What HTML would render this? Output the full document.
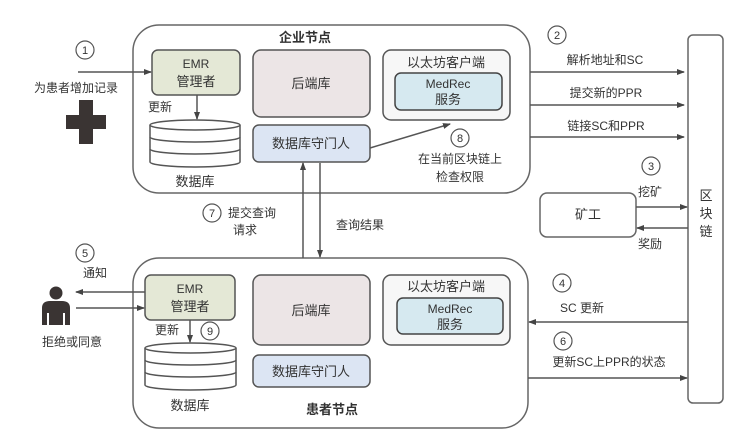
<!DOCTYPE html>
<html><head><meta charset="utf-8"><style>
html,body{margin:0;padding:0;background:#fff}
svg{display:block}
text{font-family:"Liberation Sans","Noto Sans CJK SC",sans-serif;fill:#333}
</style></head><body>
<svg width="739" height="448" viewBox="0 0 739 448" xmlns="http://www.w3.org/2000/svg">
<defs>
<marker id="a" markerWidth="8" markerHeight="8" refX="7" refY="4" orient="auto" markerUnits="userSpaceOnUse"><path d="M0,1 L8,4 L0,7z" fill="#444"/></marker>
</defs>
<g stroke="#666" stroke-width="1.5" fill="none">
<rect x="133" y="25" width="397" height="168" rx="26"/>
<rect x="133" y="258" width="395" height="170" rx="26"/>
<rect x="688" y="35" width="35" height="368" rx="5"/>
<rect x="540" y="193" width="96" height="44" rx="7"/>
</g>
<rect x="152" y="50" width="88" height="45" rx="6" fill="#e4e8d6" stroke="#555" stroke-width="1.5"/>
<rect x="253" y="50" width="117" height="67" rx="8" fill="#ece5e6" stroke="#555" stroke-width="1.5"/>
<rect x="253" y="125" width="117" height="37" rx="6" fill="#dce5f3" stroke="#555" stroke-width="1.5"/>
<rect x="383" y="50" width="127" height="70" rx="8" fill="#f7f7f7" stroke="#555" stroke-width="1.5"/>
<rect x="395" y="73" width="107" height="37" rx="6" fill="#d6e9f0" stroke="#444" stroke-width="1.5"/>
<rect x="145" y="275" width="90" height="45" rx="6" fill="#e4e8d6" stroke="#555" stroke-width="1.5"/>
<rect x="253" y="275" width="117" height="70" rx="8" fill="#ece5e6" stroke="#555" stroke-width="1.5"/>
<rect x="253" y="355" width="117" height="32" rx="6" fill="#dce5f3" stroke="#555" stroke-width="1.5"/>
<rect x="383" y="275" width="127" height="70" rx="8" fill="#f7f7f7" stroke="#555" stroke-width="1.5"/>
<rect x="397" y="298" width="106" height="36" rx="6" fill="#d6e9f0" stroke="#444" stroke-width="1.5"/>
<g stroke="#555" stroke-width="1.5" fill="#fff">
<path d="M150,125 v37 a45,5 0 0 0 90,0 v-37"/>
<ellipse cx="195" cy="125" rx="45" ry="5"/>
<path d="M150,137 a45,5 0 0 0 90,0 M150,149 a45,5 0 0 0 90,0" fill="none"/>
<path d="M145,348 v37 a45.5,5 0 0 0 91,0 v-37"/>
<ellipse cx="190.5" cy="348" rx="45.5" ry="5"/>
<path d="M145,360 a45.5,5 0 0 0 91,0 M145,372 a45.5,5 0 0 0 91,0" fill="none"/>
</g>
<g stroke="#555" stroke-width="1.5" fill="none" marker-end="url(#a)">
<line x1="78" y1="72" x2="151" y2="72"/>
<line x1="197" y1="95" x2="197" y2="119"/>
<line x1="530" y1="72" x2="684" y2="72"/>
<line x1="530" y1="105" x2="684" y2="105"/>
<line x1="530" y1="137" x2="684" y2="137"/>
<line x1="636" y1="207" x2="687" y2="207"/>
<line x1="688" y1="228" x2="637" y2="228"/>
<line x1="370" y1="148" x2="450" y2="124"/>
<line x1="303" y1="258" x2="303" y2="163"/>
<line x1="320" y1="163" x2="320" y2="257"/>
<line x1="145" y1="292" x2="76" y2="292"/>
<line x1="76" y1="308" x2="144" y2="308"/>
<line x1="190" y1="320" x2="190" y2="342"/>
<line x1="688" y1="322" x2="529" y2="322"/>
<line x1="528" y1="378" x2="687" y2="378"/>
</g>
<path d="M79,100 h14 v15 h13 v14 h-13 v15 h-14 v-15 h-13 v-14 h13z" fill="#3a3433"/>
<circle cx="56" cy="293" r="6.5" fill="#3a3433"/>
<path d="M42,325 v-17 q0,-7 8,-7 h12 q8,0 8,7 v17 h-5 v-12 h-2 v12 h-14 v-12 h-2 v12z" fill="#3a3433"/>
<g stroke="#555" stroke-width="1.2" fill="none">
<circle cx="85" cy="50" r="9"/><circle cx="557" cy="35" r="9"/><circle cx="651" cy="166" r="9"/>
<circle cx="460" cy="138" r="9"/><circle cx="212" cy="213" r="9"/><circle cx="85" cy="253" r="9"/>
<circle cx="562" cy="283" r="9"/><circle cx="563" cy="341" r="9"/><circle cx="210" cy="331" r="9"/>
</g>
<g font-size="11" text-anchor="middle">
<text x="85" y="54">1</text><text x="557" y="39">2</text><text x="651" y="170">3</text>
<text x="460" y="142">8</text><text x="212" y="217">7</text><text x="85" y="257">5</text>
<text x="562" y="287">4</text><text x="563" y="345">6</text><text x="210" y="335">9</text>
</g>
<g font-size="13" text-anchor="middle">
<text x="305" y="42" font-weight="bold">企业节点</text>
<text x="196" y="68" font-family="Liberation Serif" font-size="12">EMR</text>
<text x="196" y="86">管理者</text>
<text x="311" y="88">后端库</text>
<text x="311" y="148">数据库守门人</text>
<text x="446" y="67">以太坊客户端</text>
<text x="448" y="88" font-family="Liberation Serif" font-size="12">MedRec</text>
<text x="448" y="104">服务</text>
<text x="195" y="186">数据库</text>
<text x="76" y="92" font-size="12">为患者增加记录</text>
<text x="148" y="111" text-anchor="start" font-size="12">更新</text>
<text x="605" y="64" font-size="12">解析地址和SC</text>
<text x="606" y="97" font-size="12">提交新的PPR</text>
<text x="606" y="130" font-size="12">链接SC和PPR</text>
<text x="460" y="163" font-size="12">在当前区块链上</text>
<text x="460" y="181" font-size="12">检查权限</text>
<text x="588" y="219">矿工</text>
<text x="650" y="196" font-size="12">挖矿</text>
<text x="650" y="248" font-size="12">奖励</text>
<text x="706" y="200">区</text><text x="706" y="218">块</text><text x="706" y="236">链</text>
<text x="252" y="217" font-size="12">提交查询</text>
<text x="245" y="234" font-size="12">请求</text>
<text x="360" y="229" font-size="12">查询结果</text>
<text x="95" y="277" font-size="12">通知</text>
<text x="72" y="346" font-size="12">拒绝或同意</text>
<text x="190" y="293" font-family="Liberation Serif" font-size="12">EMR</text>
<text x="190" y="311">管理者</text>
<text x="167" y="334" font-size="12">更新</text>
<text x="190" y="410">数据库</text>
<text x="311" y="315">后端库</text>
<text x="311" y="376">数据库守门人</text>
<text x="446" y="291">以太坊客户端</text>
<text x="450" y="313" font-family="Liberation Serif" font-size="12">MedRec</text>
<text x="450" y="329">服务</text>
<text x="332" y="414" font-weight="bold">患者节点</text>
<text x="582" y="312" font-size="12">SC 更新</text>
<text x="609" y="366" font-size="12">更新SC上PPR的状态</text>
</g>
</svg>
</body></html>
